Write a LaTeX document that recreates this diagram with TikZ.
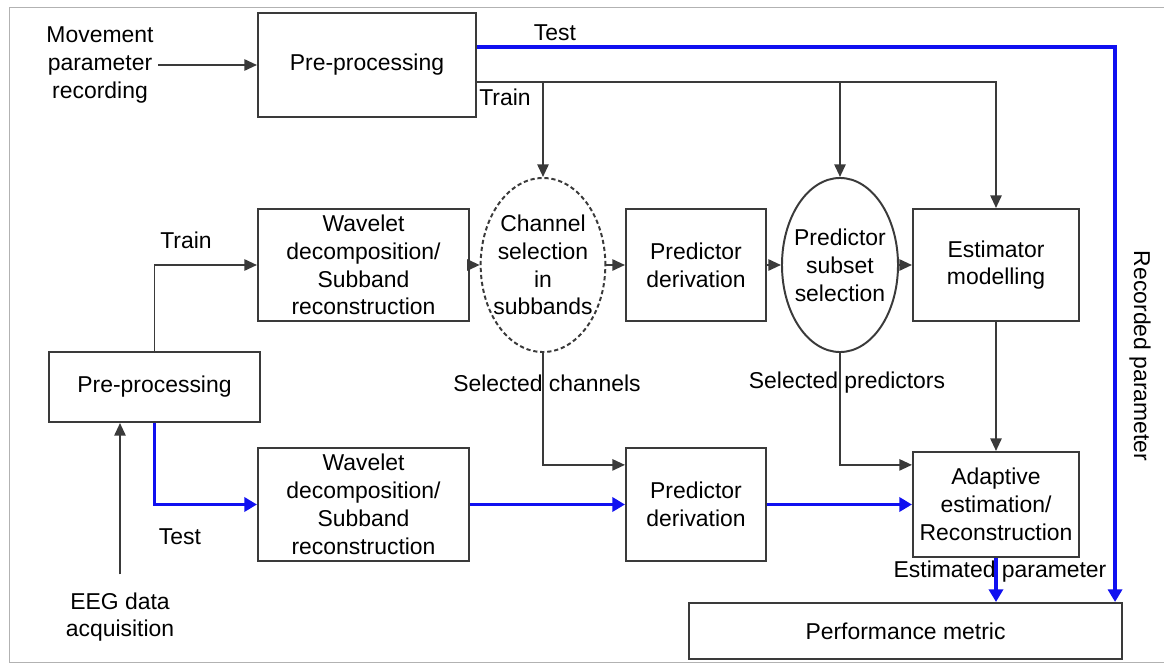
\documentclass[tikz,border=0pt]{standalone}
\usepackage{fontspec}
\setmainfont{Liberation Sans}
\usetikzlibrary{shapes.geometric,arrows.meta,positioning}
\definecolor{lgray}{HTML}{3A3A3A}
\definecolor{tblue}{HTML}{1010F0}

\begin{document}
\begin{tikzpicture}[x=0.025cm,y=-0.025cm,
  every node/.style={font=\fontsize{16.3}{19.8}\selectfont,align=center,text=black},
  block/.style={draw=lgray,line width=1.4pt,inner sep=0pt,minimum height=2.8cm},
  oval/.style={ellipse,draw=lgray,line width=1.4pt,inner xsep=-4pt,inner ysep=0pt,minimum width=2.9cm,minimum height=4.35cm},
  garrow/.style={draw=lgray,line width=1.4pt,-{Triangle[length=9pt,width=8pt]}},
  barrow/.style={draw=tblue,line width=2.6pt,-{Triangle[length=9pt,width=10pt]}}]
   \useasboundingbox (0,0) rectangle (1164,664);
   \draw[gray!60,line width=0.6pt] (1164,7) -- (9,7) -- (9,662) -- (1164,662);

   \node (mov) at (100,65) {Movement\\parameter\\recording};
   \node[block,minimum width=5.45cm,minimum height=2.6cm] (pp1) at (367,65) {Pre-processing};
   \node[block,minimum width=5.275cm] (wav1) at (363.5,265) {Wavelet\\decomposition/\\Subband\\reconstruction};
   \node[oval,dash pattern=on 3pt off 2pt] (chan) at (543,265) {Channel\\selection\\in\\subbands};
   \node[block,minimum width=3.5cm] (pred1) at (696,265) {Predictor\\derivation};
   \node[oval] (subs) at (840,265) {Predictor\\subset\\selection};
   \node[block,minimum width=4.15cm] (est) at (996,265) {Estimator\\modelling};
   \node[block,minimum width=5.275cm,minimum height=1.75cm] (pp2) at (154.5,387) {Pre-processing};
   \node[block,minimum width=5.275cm,minimum height=2.825cm] (wav2) at (363.5,504.5) {Wavelet\\decomposition/\\Subband\\reconstruction};
   \node[block,minimum width=3.5cm,minimum height=2.825cm] (pred2) at (696,504.5) {Predictor\\derivation};
   \node[block,minimum width=4.15cm,minimum height=2.625cm] (adap) at (996,504.5) {Adaptive\\estimation/\\Reconstruction};
   \node[block,minimum width=10.825cm,minimum height=1.4cm] (perf) at (905.5,631) {Performance metric};
   \node (eeg) at (120,617) {EEG data\\acquisition};

   \node (testtop) at (555,33) {Test};
   \node (traintop) at (505,97) {Train};
   \node (trainleft) at (186,240) {Train};
   \node (testleft) at (180,537) {Test};
   \node (selchan) at (547,383) {Selected channels};
   \node (selpred) at (847,383) {Selected predictors};
   \node (estpar) at (1000,572) {Estimated parameter};
   \node[rotate=-90] (recpar) at (1140,356) {Recorded parameter};

   \draw[garrow] (mov) -- (pp1);
   \draw[garrow] ([yshift=-0.425cm]pp1.east) coordinate (tr) -| (est);
   \draw[garrow] (tr -| chan.north) -- (chan);
   \draw[garrow] (tr -| subs.north) -- (subs);
   \draw[garrow] (wav1) -- (chan);
   \draw[garrow] (chan) -- (pred1);
   \draw[garrow] (pred1) -- (subs);
   \draw[garrow] (subs) -- (est);
   \draw[garrow] (pp2.north) |- (wav1.west);
   \draw[garrow] (eeg.north) ++(0,-13) -- (eeg |- pp2.south);
   \draw[garrow] (chan.south) |- ([yshift=0.99cm]pred2.west);
   \draw[garrow] (subs.south) |- ([yshift=0.99cm]adap.west);
   \draw[garrow] (est) -- (adap);

   \draw[barrow] ([yshift=0.45cm]pp1.east) -| ([xshift=-0.2cm]perf.north east);
   \draw[barrow] (pp2.south) |- (wav2.west);
   \draw[barrow] (wav2) -- (pred2);
   \draw[barrow] (pred2) -- (adap);
   \draw[barrow] (adap) -- (adap |- perf.north);
\end{tikzpicture}
\end{document}
